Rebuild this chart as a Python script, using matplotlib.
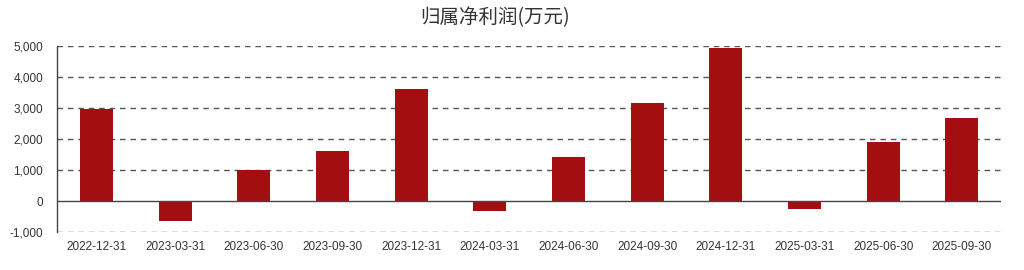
import matplotlib.pyplot as plt
import numpy as np

plt.rcParams['font.family'] = ['Noto Sans CJK SC', 'DejaVu Sans']

dates = ['2022-12-31', '2023-03-31', '2023-06-30', '2023-09-30',
         '2023-12-31', '2024-03-31', '2024-06-30', '2024-09-30',
         '2024-12-31', '2025-03-31', '2025-06-30', '2025-09-30']
profit = [2950, -640, 1000, 1610, 3590, -320, 1430, 3170, 4920, -250, 1900, 2670]
yticks = [-1000, 0, 1000, 2000, 3000, 4000, 5000]

fig = plt.figure(figsize=(10.24, 2.7), dpi=100)
ax = fig.add_axes([0.0557, 0.14, 0.922, 0.691])

x = np.arange(len(dates))
ax.bar(x, profit, width=0.42, color='#a30f11', zorder=3)

ax.set_xlim(-0.5, len(dates) - 0.5)
ax.set_ylim(-1000, 5000)
ax.set_yticks(yticks)
ax.set_yticklabels([f'{v:,}' for v in yticks], family='Liberation Sans', fontsize=8.5, color='#333333')
ax.set_xticks(x)
ax.set_xticklabels(dates, family='Liberation Sans', fontsize=8.5, color='#333333')
ax.tick_params(axis='both', length=0, pad=6)
ax.tick_params(axis='y', pad=10)

for v in yticks:
    if v == 0:
        ax.axhline(0, color='#444444', lw=1.0, zorder=4)
    else:
        ax.axhline(v, color='#555555', lw=1.0, ls=(0, (4, 3.5)), zorder=1)

for s in ['top', 'right', 'bottom']:
    ax.spines[s].set_visible(False)
ax.spines['left'].set_color('#444444')
ax.spines['left'].set_linewidth(1.0)

fig.text(0.483, 0.935, '归属净利润(万元)', ha='center', va='center', fontsize=14, color='#333333')

fig.savefig('out.png', dpi=100)
